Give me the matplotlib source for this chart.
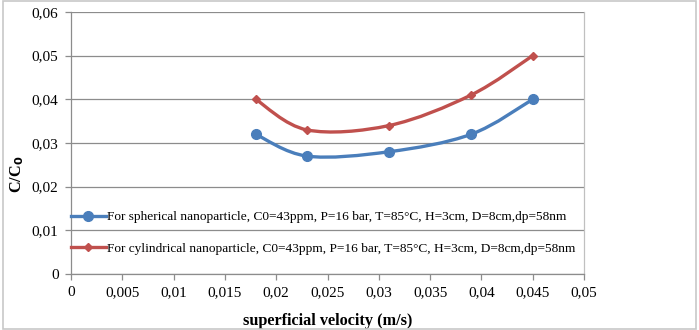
import numpy as np
import matplotlib
matplotlib.use("Agg")
import matplotlib.pyplot as plt
from matplotlib.path import Path
from matplotlib.patches import PathPatch, Rectangle
from matplotlib.lines import Line2D

# ------- du lieu doc tu hinh -------
vel = [0.018, 0.023, 0.031, 0.039, 0.045]
c_sph = [0.032, 0.027, 0.028, 0.032, 0.040]
c_cyl = [0.040, 0.033, 0.034, 0.041, 0.050]

lbl_sph = "For spherical nanoparticle, C0=43ppm, P=16 bar, T=85°C, H=3cm, D=8cm,dp=58nm"
lbl_cyl = "For cylindrical nanoparticle, C0=43ppm, P=16 bar, T=85°C, H=3cm, D=8cm,dp=58nm"

xticks = [0, 0.005, 0.01, 0.015, 0.02, 0.025, 0.03, 0.035, 0.04, 0.045, 0.05]
xtick_lbl = ["0", "0,005", "0,01", "0,015", "0,02", "0,025", "0,03", "0,035",
             "0,04", "0,045", "0,05"]
yticks = [0, 0.01, 0.02, 0.03, 0.04, 0.05, 0.06]
ytick_lbl = ["0", "0,01", "0,02", "0,03", "0,04", "0,05", "0,06"]

BLUE = "#4a7ebb"
RED = "#c0504d"

plt.rcParams["font.family"] = ["Liberation Serif", "DejaVu Serif"]


def smooth_path(x, y):
    # duong cong kieu Excel (Bezier, diem dieu khien = P1 + (P2-P0)/6)
    p = np.column_stack([x, y])
    n = len(p)
    verts = [p[0]]
    codes = [Path.MOVETO]
    for i in range(n - 1):
        p0 = p[i - 1] if i > 0 else p[i]
        p3 = p[i + 2] if i + 2 < n else p[i + 1]
        c1 = p[i] + (p[i + 1] - p0) / 6
        c2 = p[i + 1] - (p3 - p[i]) / 6
        verts += [c1, c2, p[i + 1]]
        codes += [Path.CURVE4] * 3
    return Path(verts, codes)


fig = plt.figure(figsize=(6.99, 3.30), dpi=100)
fig.patches.append(Rectangle((0.004, 0.003), 0.992, 0.994, transform=fig.transFigure,
                             fill=False, ec="#c8c8c8", lw=1.2))
ax = fig.add_axes([0.1016, 0.1697, 0.7339, 0.7939])

ax.set_xlim(0, 0.05)
ax.set_ylim(0, 0.06)
ax.set_xticks(xticks)
ax.set_xticklabels(xtick_lbl)
ax.set_yticks(yticks)
ax.set_yticklabels(ytick_lbl)
ax.tick_params(labelsize=11, length=4, width=0.9, color="#8c8c8c", pad=5)
ax.grid(axis="y", color="#8c8c8c", lw=0.9)
ax.set_axisbelow(True)
for s in ["left", "bottom", "right"]:
    ax.spines[s].set_color("#8c8c8c")
    ax.spines[s].set_linewidth(0.9)
ax.spines["right"].set_color("#c0c0c0")
ax.spines["top"].set_visible(False)

for xs, ys, col, mk, ms in [(vel, c_sph, BLUE, "o", 7), (vel, c_cyl, RED, "D", 4.5)]:
    ax.add_patch(PathPatch(smooth_path(xs, ys), fill=False, ec=col, lw=2.4,
                           capstyle="round", joinstyle="round"))
    ax.plot(xs, ys, ls="none", marker=mk, ms=ms, color=col)

h = [Line2D([0], [0], color=BLUE, lw=2.4, marker="o", ms=7, label=lbl_sph),
     Line2D([0], [0], color=RED, lw=2.4, marker="D", ms=4.5, label=lbl_cyl)]
ax.legend(handles=h, loc="center left", bbox_to_anchor=(0.0, 0.156),
          frameon=False, fontsize=9.6, handlelength=2.6, handletextpad=0.1,
          borderaxespad=0, borderpad=0, labelspacing=1.45)

ax.set_xlabel("superficial velocity (m/s)", fontsize=11.7, fontweight="bold", labelpad=10)
ax.set_ylabel("C/C$_\\mathbf{0}$", fontsize=11.7, fontweight="bold")
ax.yaxis.set_label_coords(-0.088, 0.38)

fig.savefig("out.png", dpi=100)
